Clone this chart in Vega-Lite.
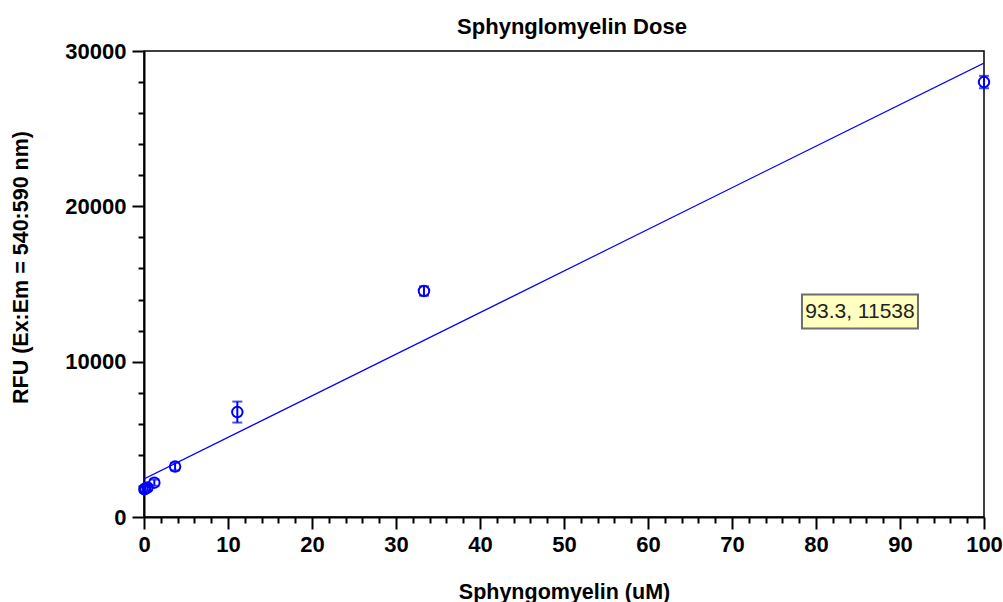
{
  "$schema": "https://vega.github.io/schema/vega-lite/v6.json",
  "autosize": "none",
  "width": 840,
  "height": 466,
  "padding": {"left": 144, "top": 51, "right": 19, "bottom": 85},
  "background": "white",
  "config": {
    "font": "Liberation Sans",
    "view": {"stroke": "black", "strokeWidth": 1.5},
    "axis": {"grid": false, "labelFlush": false, "domainColor": "black", "domainWidth": 2, "tickColor": "black", "tickWidth": 2, "labelColor": "black", "labelFont": "Liberation Sans", "labelFontWeight": "bold", "labelFontSize": 22, "titleFont": "Liberation Sans", "titleFontWeight": "bold", "titleFontSize": 21.5, "titleColor": "black", "labelOverlap": false}
  },
  "title": {"text": "Sphynglomyelin Dose", "font": "Liberation Sans", "fontWeight": "bold", "fontSize": 22, "color": "black", "offset": 1, "dx": 8},
  "datasets": {
    "pts": [
      {"dose": 100, "rfu": 28000, "lo": 27600, "hi": 28400},
      {"dose": 33.33, "rfu": 14550, "lo": 14250, "hi": 14850},
      {"dose": 11.11, "rfu": 6755, "lo": 6080, "hi": 7430},
      {"dose": 3.7, "rfu": 3245, "lo": 3000, "hi": 3490},
      {"dose": 1.23, "rfu": 2210, "lo": 2010, "hi": 2410},
      {"dose": 0.41, "rfu": 1900, "lo": 1720, "hi": 2080},
      {"dose": 0.137, "rfu": 1830, "lo": 1650, "hi": 2010},
      {"dose": 0.046, "rfu": 1780, "lo": 1600, "hi": 1960}
    ],
    "fit": [
      {"dose": 0, "rfu": 2450},
      {"dose": 100, "rfu": 29226}
    ],
    "note": [
      {"x1": 78.33, "x2": 92.14, "y1": 14323, "y2": 12129, "xc": 85.24, "yc": 13226, "label": "93.3, 11538"}
    ]
  },
  "layer": [
    {
      "data": {"name": "fit"},
      "mark": {"type": "line", "color": "#0000ff", "strokeWidth": 1.2, "clip": true},
      "encoding": {
        "x": {"field": "dose", "type": "quantitative", "scale": {"domain": [0, 100], "nice": false},
          "axis": {"title": "Sphyngomyelin (uM)", "tickCount": 200, "format": "d", "values": [0,2,4,6,8,10,12,14,16,18,20,22,24,26,28,30,32,34,36,38,40,42,44,46,48,50,52,54,56,58,60,62,64,66,68,70,72,74,76,78,80,82,84,86,88,90,92,94,96,98,100],
            "tickSize": {"condition": {"test": "datum.value % 10 === 0", "value": 12}, "value": 6},
            "labelExpr": "datum.value % 10 === 0 ? datum.label : ''", "labelPadding": 5, "titlePadding": 26}},
        "y": {"field": "rfu", "type": "quantitative", "scale": {"domain": [0, 30000], "nice": false},
          "axis": {"title": "RFU (Ex:Em = 540:590 nm)", "tickCount": 200, "values": [0,2000,4000,6000,8000,10000,12000,14000,16000,18000,20000,22000,24000,26000,28000,30000],
            "tickSize": {"condition": {"test": "datum.value % 10000 === 0", "value": 12}, "value": 6},
            "format": "d",
            "labelExpr": "datum.value % 10000 === 0 ? datum.label : ''", "labelPadding": 6, "titlePadding": 32, "titleY": 216}}
      }
    },
    {
      "data": {"name": "pts"},
      "mark": {"type": "rule", "color": "#0000ff", "strokeWidth": 2},
      "encoding": {
        "x": {"field": "dose", "type": "quantitative"},
        "y": {"field": "lo", "type": "quantitative"},
        "y2": {"field": "hi"}
      }
    },
    {
      "data": {"name": "pts"},
      "mark": {"type": "tick", "orient": "horizontal", "color": "#0000ff", "size": 10, "thickness": 2},
      "encoding": {
        "x": {"field": "dose", "type": "quantitative"},
        "y": {"field": "lo", "type": "quantitative"}
      }
    },
    {
      "data": {"name": "pts"},
      "mark": {"type": "tick", "orient": "horizontal", "color": "#0000ff", "size": 10, "thickness": 2},
      "encoding": {
        "x": {"field": "dose", "type": "quantitative"},
        "y": {"field": "hi", "type": "quantitative"}
      }
    },
    {
      "data": {"name": "pts"},
      "mark": {"type": "point", "shape": "circle", "filled": false, "color": "#0000ff", "strokeWidth": 2, "size": 110, "opacity": 1},
      "encoding": {
        "x": {"field": "dose", "type": "quantitative"},
        "y": {"field": "rfu", "type": "quantitative"}
      }
    },
    {
      "data": {"name": "note"},
      "mark": {"type": "rect", "fill": "#ffffc0", "stroke": "#6e6e6e", "strokeWidth": 2},
      "encoding": {
        "x": {"field": "x1", "type": "quantitative"},
        "x2": {"field": "x2"},
        "y": {"field": "y1", "type": "quantitative"},
        "y2": {"field": "y2"}
      }
    },
    {
      "data": {"name": "note"},
      "mark": {"type": "text", "font": "Liberation Sans", "fontSize": 21, "color": "#222222", "align": "center", "baseline": "middle"},
      "encoding": {
        "x": {"field": "xc", "type": "quantitative"},
        "y": {"field": "yc", "type": "quantitative"},
        "text": {"field": "label"}
      }
    }
  ]
}
